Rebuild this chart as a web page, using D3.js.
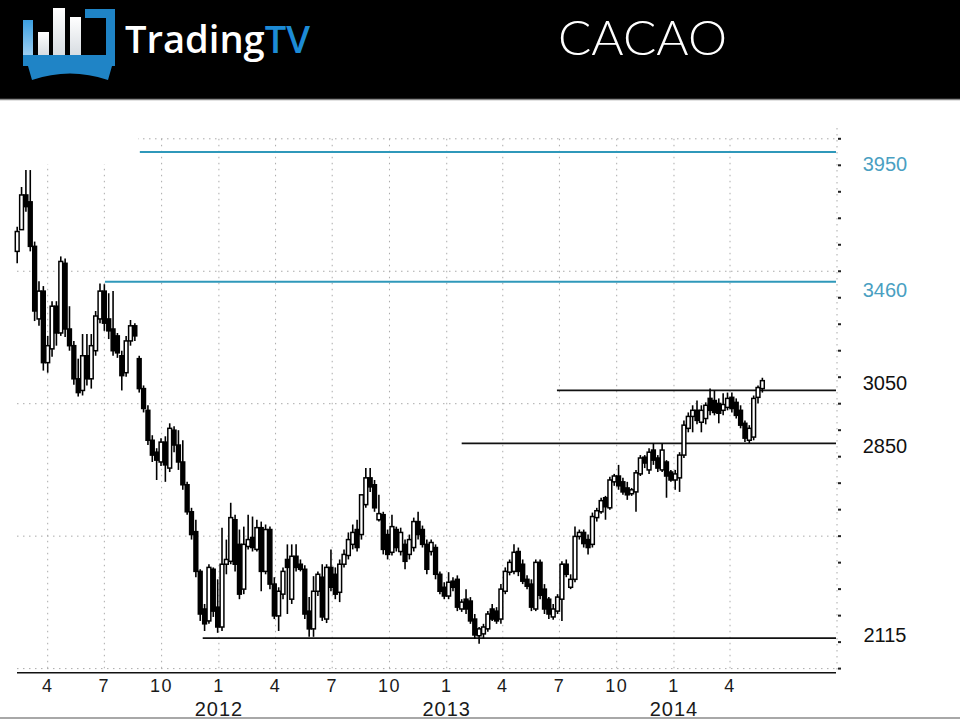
<!DOCTYPE html>
<html>
<head>
<meta charset="utf-8">
<script src="https://d3js.org/d3.v7.min.js"></script>
<style>
body { margin: 0; background: #fff; }
svg { display: block; }
.grid line { stroke: #aaa; stroke-width: 1; stroke-dasharray: 1.5,4.5; }
.lbl { font-family: "Liberation Sans", Arial, sans-serif; fill: #1a1a1a; }
</style>
</head>
<body>
<svg id="chart" width="960" height="720"></svg>
<script>
// weekly candles, first week 2011-02-11
var firstWeek = new Date(2011, 1, 11);

var opens = [3575,3657,3788,3762,3594,3320,3425,3155,3207,3368,
  3267,3530,3282,3219,3094,3050,3181,3094,3200,3320,
  3425,3320,3282,3256,3181,3117,3237,3294,3170,3057,
  2975,2862,2817,2780,2855,2757,2900,2844,2780,2694,
  2592,2517,2367,2225,2180,2375,2232,2157,2394,2405,
  2562,2469,2300,2461,2495,2450,2532,2367,2525,2319,
  2199,2281,2412,2262,2424,2394,2375,2217,2150,2292,
  2345,2187,2382,2356,2288,2394,2427,2469,2525,2506,
  2619,2720,2694,2562,2581,2506,2439,2525,2442,2469,
  2431,2457,2555,2525,2469,2442,2457,2356,2307,2274,
  2330,2337,2225,2262,2255,2187,2124,2131,2150,2225,
  2217,2187,2292,2364,2367,2442,2394,2337,2319,2225,
  2401,2300,2262,2195,2217,2262,2394,2307,2337,2499,
  2514,2487,2469,2570,2592,2645,2607,2705,2727,2705,
  2682,2660,2667,2735,2798,2750,2825,2795,2750,2780,
  2742,2712,2720,2806,2907,2952,2975,2930,2944,3020,
  3012,3001,2975,2986,3024,3005,2975,2926,2862,2874,
  3024,3057];

var highs = [3668,3818,3882,3882,3612,3462,3444,3256,3387,3387,
  3556,3548,3368,3237,3170,3263,3263,3263,3350,3454,
  3451,3417,3425,3267,3200,3256,3316,3304,3181,3069,
  2994,2881,2832,2870,2877,2926,2915,2900,2862,2705,
  2607,2562,2375,2244,2394,2382,2337,2532,2487,2626,
  2581,2525,2536,2581,2574,2562,2555,2544,2536,2345,
  2307,2382,2469,2469,2469,2412,2390,2270,2349,2367,
  2394,2394,2450,2382,2412,2450,2514,2544,2562,2581,
  2757,2757,2712,2656,2592,2525,2581,2536,2532,2487,
  2506,2570,2592,2540,2487,2487,2469,2367,2326,2364,
  2345,2352,2262,2300,2270,2206,2157,2169,2217,2244,
  2232,2319,2382,2412,2469,2457,2412,2352,2337,2412,
  2412,2319,2270,2244,2281,2405,2412,2356,2536,2525,
  2525,2506,2589,2607,2645,2652,2724,2735,2769,2720,
  2705,2682,2750,2806,2806,2832,2851,2806,2851,2787,
  2750,2750,2817,2937,2967,2994,3012,2994,3005,3057,
  3050,3020,3039,3042,3042,3020,2994,2937,2919,3031,
  3069,3098];

var lows = [3530,3657,3725,3575,3312,3294,3125,3117,3177,3219,
  3256,3252,3200,3072,3027,3031,3069,3057,3181,3304,
  3275,3244,3181,3173,3050,3102,3219,3237,3042,2967,
  2844,2780,2712,2765,2705,2742,2817,2750,2675,2581,
  2487,2345,2180,2142,2169,2195,2135,2142,2356,2394,
  2367,2262,2281,2450,2442,2442,2292,2356,2300,2187,
  2142,2262,2206,2244,2367,2367,2187,2120,2120,2274,
  2180,2172,2292,2262,2251,2382,2412,2450,2442,2487,
  2607,2667,2592,2555,2431,2412,2427,2442,2427,2375,
  2412,2442,2487,2457,2356,2427,2337,2281,2262,2262,
  2292,2217,2214,2206,2169,2112,2094,2112,2139,2180,
  2169,2169,2281,2352,2356,2349,2319,2300,2217,2217,
  2262,2206,2187,2184,2206,2180,2345,2300,2326,2487,
  2457,2431,2457,2555,2585,2562,2600,2690,2675,2656,
  2637,2652,2592,2727,2757,2735,2769,2742,2742,2645,
  2705,2675,2667,2795,2892,2892,2922,2892,2922,2956,
  2956,2926,2956,2975,2967,2944,2907,2855,2851,2862,
  3001,3042];

var closes = [3650,3788,3744,3594,3350,3425,3155,3219,3368,3267,
  3537,3282,3219,3094,3042,3181,3094,3219,3331,3425,
  3304,3275,3200,3192,3106,3237,3294,3256,3057,2982,
  2862,2806,2787,2855,2769,2907,2844,2780,2694,2592,
  2506,2367,2206,2169,2382,2217,2157,2394,2412,2570,
  2394,2281,2469,2487,2457,2532,2367,2525,2319,2199,
  2292,2367,2382,2424,2382,2375,2206,2150,2292,2356,
  2195,2382,2307,2281,2394,2431,2487,2514,2457,2656,
  2720,2686,2607,2585,2450,2431,2536,2457,2514,2405,
  2487,2555,2506,2469,2375,2476,2356,2292,2274,2326,
  2307,2232,2251,2225,2180,2127,2150,2157,2206,2187,
  2180,2300,2367,2401,2439,2367,2330,2311,2232,2401,
  2277,2225,2206,2225,2270,2394,2356,2337,2499,2514,
  2472,2457,2574,2596,2634,2611,2712,2727,2690,2667,
  2656,2675,2739,2795,2776,2817,2787,2757,2825,2727,
  2712,2735,2806,2919,2952,2975,2937,2975,2994,2975,
  2967,2964,2997,3020,2982,2956,2919,2870,2907,3020,
  3061,3087];

// support / resistance levels
var levelValues = [3950, 3460, 3050, 2850, 2115];
var levelStart = [new Date(2011, 7, 27), new Date(2011, 6, 2), new Date(2013, 5, 27),
                  new Date(2013, 0, 25), new Date(2011, 11, 6)];
var levelColor = ["#2f98ba", "#2f98ba", "#111", "#111", "#111"];
var levelTextColor = ["#4a9fc2", "#4a9fc2", "#111", "#111", "#111"];
var levelLabelShift = [12, 8, -7, 3, -3];

var weeks = closes.map(function(d, i) { return d3.timeDay.offset(firstWeek, 7 * i); });
var candles = closes.map(function(c, i) {
    return {date: weeks[i], o: opens[i], h: highs[i], l: lows[i], c: c};
});

var svg = d3.select("#chart");

var x = d3.scaleTime()
    .domain([new Date(2011, 3, 1), new Date(2014, 3, 1)])
    .range([47.7, 730]);
var y = d3.scaleLinear().domain([2000, 4000]).range([668.6, 138.8]);

var plotLeft = 17, plotRight = 836, axisY = 672.7;

// header band
svg.append("rect").attr("x", 0).attr("y", 0).attr("width", 960).attr("height", 99).attr("fill", "#000");
svg.append("line").attr("x1", 0).attr("x2", 960).attr("y1", 99.5).attr("y2", 99.5)
    .attr("stroke", "#8a8a8a").attr("stroke-width", 1.5);

var defs = svg.append("defs");
var g1 = defs.append("linearGradient").attr("id", "barGrad").attr("x1", 0).attr("y1", 0).attr("x2", 0).attr("y2", 1);
g1.append("stop").attr("offset", "0%").attr("stop-color", "#ffffff");
g1.append("stop").attr("offset", "100%").attr("stop-color", "#d8dde2");
var g2 = defs.append("linearGradient").attr("id", "blueGrad").attr("x1", 0).attr("y1", 0).attr("x2", 0).attr("y2", 1);
g2.append("stop").attr("offset", "0%").attr("stop-color", "#3c9fe0");
g2.append("stop").attr("offset", "100%").attr("stop-color", "#9fd0f2");

// logo
var logo = svg.append("g");
logo.append("rect").attr("x", 23).attr("y", 20).attr("width", 10).attr("height", 36).attr("fill", "url(#blueGrad)");
logo.append("rect").attr("x", 38).attr("y", 32).attr("width", 11).attr("height", 23).attr("fill", "url(#barGrad)");
logo.append("rect").attr("x", 53).attr("y", 8).attr("width", 12).attr("height", 47).attr("fill", "url(#barGrad)");
logo.append("rect").attr("x", 70).attr("y", 17).attr("width", 11).attr("height", 38).attr("fill", "url(#barGrad)");
logo.append("path")
    .attr("d", "M85,9 L115,9 L115,66 L23,66 L23,55 L106,55 L106,18 L85,18 Z")
    .attr("fill", "#1f84c6");
logo.append("path")
    .attr("d", "M28,66 L112,66 L108,80 Q70,67 32,80 Z")
    .attr("fill", "#1f84c6");
var brand = svg.append("text").attr("x", 125).attr("y", 53)
    .attr("textLength", 185).attr("lengthAdjust", "spacingAndGlyphs")
    .style("font-family", "'Open Sans', sans-serif").style("font-weight", 600)
    .style("font-size", "38px").attr("fill", "#fff");
brand.append("tspan").text("Trading");
brand.append("tspan").attr("fill", "#1d8bd6").text("TV");
svg.append("text").attr("x", 558).attr("y", 55)
    .attr("textLength", 169).attr("lengthAdjust", "spacingAndGlyphs")
    .style("font-family", "Lato, sans-serif").style("font-weight", 300)
    .style("font-size", "48px").attr("fill", "#fff").text("CACAO");

// gridlines
var quarterTicks = d3.timeMonth.range(new Date(2011, 3, 1), new Date(2014, 4, 1), 3);
var grid = svg.append("g").attr("class", "grid");
grid.selectAll(".vg").data(quarterTicks).enter().append("line")
    .attr("x1", function(d) { return x(d); }).attr("x2", function(d) { return x(d); })
    .attr("y1", y(4000)).attr("y2", axisY);
grid.selectAll(".hg").data(d3.range(2000, 4001, 500)).enter().append("line")
    .attr("x1", plotLeft).attr("x2", plotRight)
    .attr("y1", function(d) { return y(d); }).attr("y2", function(d) { return y(d); });
// right axis (dotted)
grid.append("line").attr("x1", plotRight + 1).attr("x2", plotRight + 1).attr("y1", 128).attr("y2", axisY);
// blank area top-left
svg.append("rect").attr("x", 0).attr("y", 104).attr("width", 138).attr("height", 60).attr("fill", "#fff");

// right axis ticks every 100
svg.append("g").selectAll("rect").data(d3.range(2000, 4001, 100)).enter().append("rect")
    .attr("x", plotRight + 2).attr("y", function(d) { return y(d) - 1; })
    .attr("width", 3).attr("height", 2).attr("fill", "#222");

// bottom axis
svg.append("line").attr("x1", plotLeft).attr("x2", plotRight).attr("y1", axisY).attr("y2", axisY)
    .attr("stroke", "#111").attr("stroke-width", 1.5);
svg.append("g").selectAll("text").data(quarterTicks).enter().append("text")
    .attr("class", "lbl")
    .attr("x", function(d) { return x(d); }).attr("y", 692)
    .attr("text-anchor", "middle").style("font-size", "18px").style("letter-spacing", "1.5px")
    .text(d3.timeFormat("%-m"));
svg.append("g").selectAll("text").data(quarterTicks.filter(function(d) { return d.getMonth() === 0; }))
    .enter().append("text")
    .attr("class", "lbl")
    .attr("x", function(d) { return x(d); }).attr("y", 716)
    .attr("text-anchor", "middle").style("font-size", "20px").style("letter-spacing", "1px")
    .text(d3.timeFormat("%Y"));
svg.append("line").attr("x1", 0).attr("x2", 960).attr("y1", 718).attr("y2", 718)
    .attr("stroke", "#a8a8a8").attr("stroke-width", 2);

// level lines
var levels = svg.append("g");
levels.selectAll("line").data(levelValues).enter().append("line")
    .attr("x1", function(d, i) { return x(levelStart[i]); })
    .attr("x2", plotRight)
    .attr("y1", function(d) { return y(d); }).attr("y2", function(d) { return y(d); })
    .attr("stroke", function(d, i) { return levelColor[i]; })
    .attr("stroke-width", function(d, i) { return i < 2 ? 2 : 1.7; });
levels.selectAll("text").data(levelValues).enter().append("text")
    .attr("class", "lbl")
    .attr("x", 885)
    .attr("y", function(d, i) { return y(d) + levelLabelShift[i] + 7; })
    .attr("text-anchor", "middle").style("font-size", "20px")
    .style("fill", function(d, i) { return levelTextColor[i]; })
    .text(function(d) { return d; });

// candles
var bodyW = 3.8;
var cg = svg.append("g");
cg.selectAll(".wick").data(candles).enter().append("line")
    .attr("x1", function(d) { return x(d.date); }).attr("x2", function(d) { return x(d.date); })
    .attr("y1", function(d) { return y(d.h); }).attr("y2", function(d) { return y(d.l); })
    .attr("stroke", "#000").attr("stroke-width", 1.6);
cg.selectAll(".body").data(candles).enter().append("rect")
    .attr("x", function(d) { return x(d.date) - bodyW / 2; })
    .attr("y", function(d) { return y(Math.max(d.o, d.c)); })
    .attr("width", bodyW)
    .attr("height", function(d) { return Math.max(1, Math.abs(y(d.o) - y(d.c))); })
    .attr("fill", function(d) { return d.c < d.o ? "#000" : "#fff"; })
    .attr("stroke", "#000").attr("stroke-width", 1.5);
</script>
</body>
</html>
